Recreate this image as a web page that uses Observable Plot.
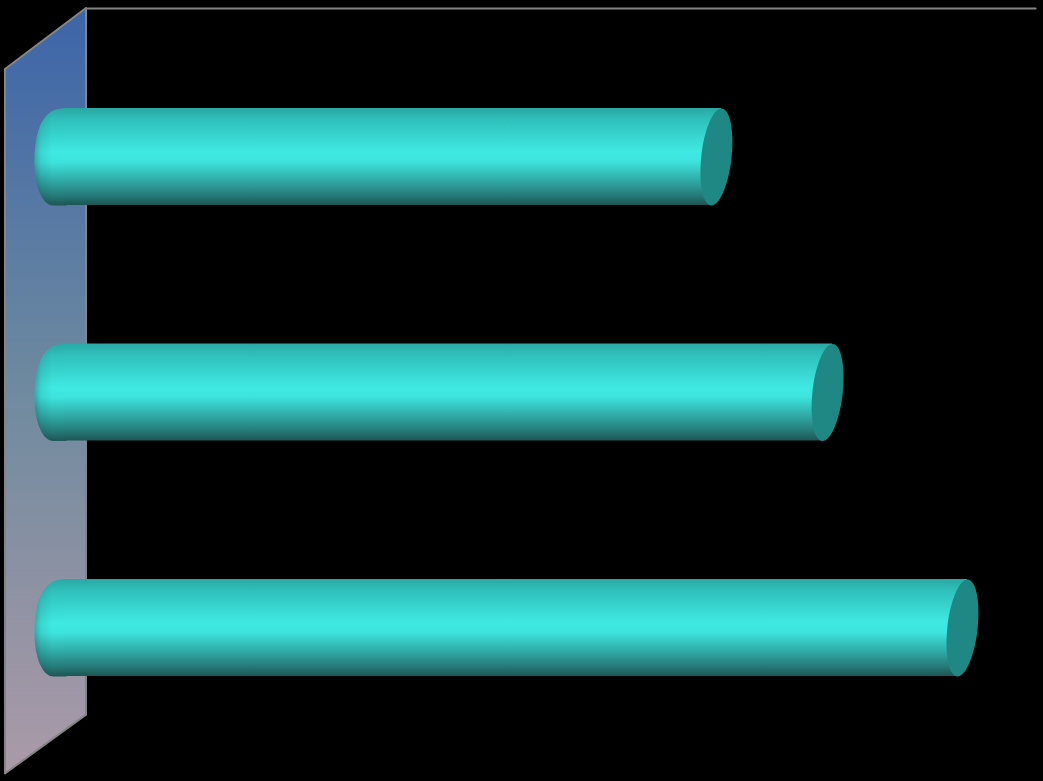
<!DOCTYPE html>
<html><head><meta charset="utf-8">
<script src="https://cdn.jsdelivr.net/npm/d3@7"></script>
<script src="https://cdn.jsdelivr.net/npm/@observablehq/plot@0.6"></script>
<style>html,body{margin:0;padding:0;background:#000;overflow:hidden}svg{display:block}</style>
</head><body><div id="chart"></div>
<script>
const categories = ["A", "B", "C"];
const rows = [0, 1, 2];
const values = [70.1, 81.8, 96];
const barHalf = 0.20594;
const capShear = 0.53;

const wallX = [-4.74, 3.79];
const wallTop = [-0.3715, -0.6305];
const wallBottom = [2.62, 2.37];
const backLineX = [3.79, 103.7];
const backLineY = [-0.6305, -0.6305];

const bars = categories.map((c, i) => ({category: c, row: rows[i], value: values[i]}));
const wall = wallX.map((x, i) => ({x, y1: wallTop[i], y2: wallBottom[i]}));
const backLine = backLineX.map((x, i) => ({x, y: backLineY[i]}));
// Each cylinder's side: its far edge leans with the tilted end cap.
const bodies = bars.flatMap(d => [
  {row: d.row, y: d.row - barHalf, x2: d.value + capShear},
  {row: d.row, y: d.row + barHalf, x2: d.value - capShear}
]);

const NS = "http://www.w3.org/2000/svg";
function gradient(id, x2, y2, stops) {
  const g = document.createElementNS(NS, "linearGradient");
  g.setAttribute("id", id);
  g.setAttribute("x1", 0); g.setAttribute("y1", 0);
  g.setAttribute("x2", x2); g.setAttribute("y2", y2);
  for (const [o, c, a] of stops) {
    const s = document.createElementNS(NS, "stop");
    s.setAttribute("offset", o); s.setAttribute("stop-color", c);
    if (a != null) s.setAttribute("stop-opacity", a);
    g.appendChild(s);
  }
  return g;
}
const barStops = [[0,"#2aa8a5"],[0.12,"#30c0bb"],[0.45,"#3fe9e2"],[0.55,"#3de4dd"],[0.75,"#2fa9a5"],[0.9,"#267a78"],[1,"#1c5655"]];
const defs = () => {
  const d = document.createElementNS(NS, "defs");
  d.appendChild(gradient("wallFill", 0, 1, [[0,"#3c65a9"],[0.5,"#6f8a9f"],[1,"#ab9aa8"]]));
  d.appendChild(gradient("barFill", 0, 1, barStops));
  d.appendChild(gradient("edgeShade", 1, 0, [[0,"#000",0.25],[0.2,"#000",0.08],[0.55,"#000",0]]));
  return d;
};

// Tilted elliptical end of a cylinder: an ellipse sheared along y.
const capSymbol = {draw(ctx) {
  const a = 15.2, b = 48.5, k = 0.5523, sh = -5 / 48.5;
  const X = (x, y) => x + sh * y;
  ctx.moveTo(X(0, -b), -b);
  ctx.bezierCurveTo(X(a * k, -b), -b, X(a, -b * k), -b * k, X(a, 0), 0);
  ctx.bezierCurveTo(X(a, b * k), b * k, X(a * k, b), b, X(0, b), b);
  ctx.bezierCurveTo(X(-a * k, b), b, X(-a, b * k), b * k, X(-a, 0), 0);
  ctx.bezierCurveTo(X(-a, -b * k), -b * k, X(-a * k, -b), -b, X(0, -b), -b);
  ctx.closePath();
}};
// Rounded left end of a cylinder.
const baseSymbol = {draw(ctx) {
  const left = -16, b = 48.5;
  ctx.moveTo(16, -b);
  ctx.lineTo(12, -b);
  ctx.bezierCurveTo(-3, -b, left, -34, left, 4);
  ctx.bezierCurveTo(left, 30, -8, b, 3, b);
  ctx.lineTo(16, b);
  ctx.closePath();
}};

const chart = Plot.plot({
  width: 1043, height: 781,
  margin: 0,
  style: {background: "#000"},
  x: {type: "linear", domain: [-5.263, 104.526], range: [0, 1043], axis: null},
  y: {type: "linear", domain: [-0.6645, 2.6518], range: [0, 781], axis: null},
  marks: [
    defs,
    Plot.areaY(wall, {x: "x", y1: "y1", y2: "y2", fill: "url(#wallFill)", stroke: "#858585", strokeWidth: 2}),
    Plot.line(backLine, {x: "x", y: "y", stroke: "#858585", strokeWidth: 2}),
    Plot.dot(bars, {x: 0, y: "row", symbol: baseSymbol, r: 10, fill: "url(#barFill)"}),
    Plot.dot(bars, {x: 0, y: "row", symbol: baseSymbol, r: 10, fill: "url(#edgeShade)"}),
    Plot.areaX(bodies, {x1: 1.4, x2: "x2", y: "y", z: "row", fill: "url(#barFill)"}),
    Plot.dot(bars, {x: "value", y: "row", symbol: capSymbol, r: 10, fill: "#208884"})
  ]
});
document.getElementById("chart").appendChild(chart);
</script></body></html>
